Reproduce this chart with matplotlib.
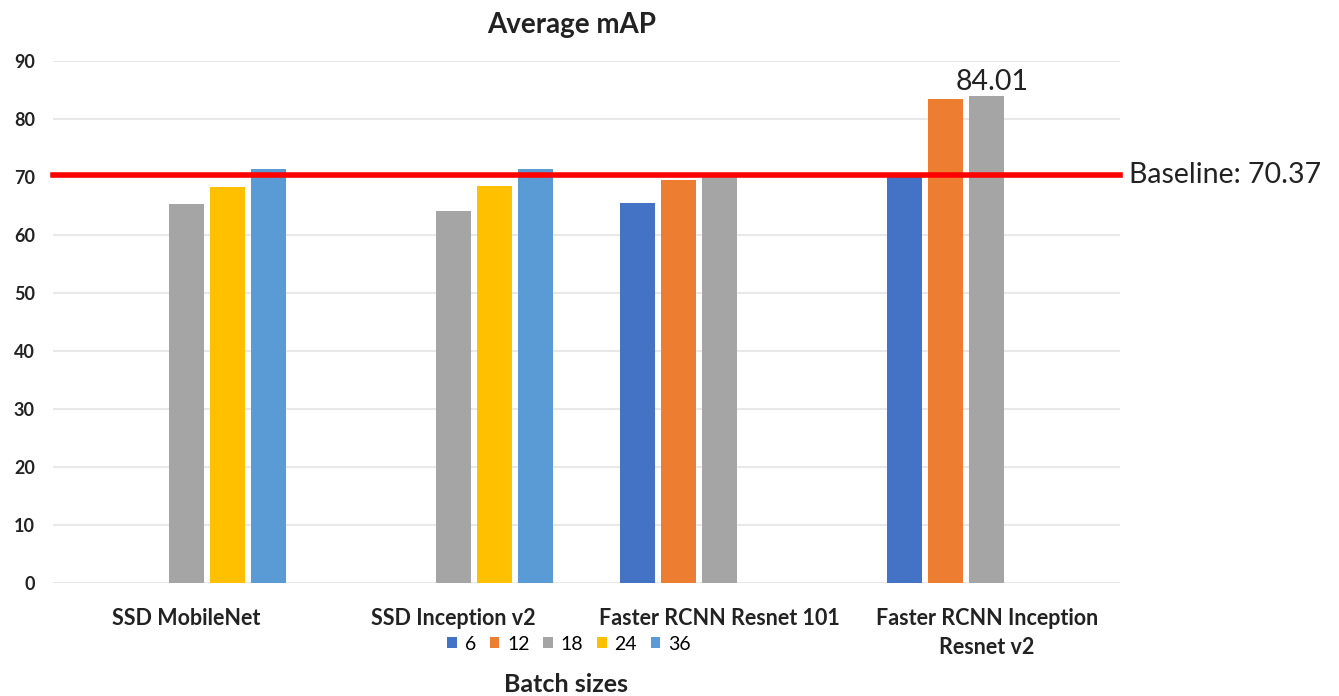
import matplotlib.pyplot as plt
import numpy as np

plt.rcParams['font.family'] = ['Lato', 'DejaVu Sans']

models = ["SSD MobileNet", "SSD Inception v2", "Faster RCNN Resnet 101",
          "Faster RCNN Inception\nResnet v2"]
batch_sizes = ["6", "12", "18", "24", "36"]
colors = ["#4472C4", "#ED7D31", "#A5A5A5", "#FFC000", "#5B9BD5"]

# mAP per batch size, nan = not trained
map_6 = [np.nan, np.nan, 65.5, 70.2]
map_12 = [np.nan, np.nan, 69.5, 83.5]
map_18 = [65.4, 64.2, 70.2, 84.01]
map_24 = [68.3, 68.5, np.nan, np.nan]
map_36 = [71.3, 71.3, np.nan, np.nan]
baseline = 70.37

series = [map_6, map_12, map_18, map_24, map_36]

fig = plt.figure(figsize=(13.39, 6.96), dpi=100)
ax = fig.add_axes([53 / 1339, 113 / 696, 1067 / 1339, 522 / 696])

x = np.arange(len(models))
step = 0.154
width = 0.131
for i, vals in enumerate(series):
    ax.bar(x + (i - 2) * step, vals, width, color=colors[i], label=batch_sizes[i], zorder=2)

ax.axhline(baseline, color="red", lw=4, zorder=3, clip_on=False)
ax.text(3.535, baseline, "Baseline: 70.37", fontsize=20.5, va="center", ha="left", color="#222222")
ax.text(3.02, 84.01 + 0.2, "84.01", fontsize=20.5, ha="center", va="bottom", color="#222222")

ax.set_xlim(-0.5, 3.5)
ax.set_ylim(0, 90)
ax.set_yticks(range(0, 91, 10))
ax.set_xticks(x)
ax.set_xticklabels(models, fontsize=15.5, fontweight="bold", color="#222222", linespacing=1.45)
ax.tick_params(axis="x", length=0, pad=18)
ax.tick_params(axis="y", length=0, pad=13, labelsize=13, labelcolor="#222222")
for lab in ax.get_yticklabels():
    lab.set_fontweight("bold")
ax.grid(axis="y", color="#e4e4e4", lw=1.2, zorder=0)
for s in ax.spines.values():
    s.set_visible(False)

fig.text(572 / 1339, 1 - 25 / 696, "Average mAP", fontsize=20, fontweight="bold",
         ha="center", va="center", color="#222222")
fig.text(566 / 1339, 1 - 685 / 696, "Batch sizes", fontsize=18, fontweight="bold",
         ha="center", va="center", color="#222222")

fig.legend(loc="center", bbox_to_anchor=(569 / 1339, 1 - 644 / 696), ncol=5, frameon=False,
           fontsize=14, handlelength=0.5, handleheight=0.5, handletextpad=0.4, columnspacing=0.7)

fig.savefig("out.png", dpi=100)
